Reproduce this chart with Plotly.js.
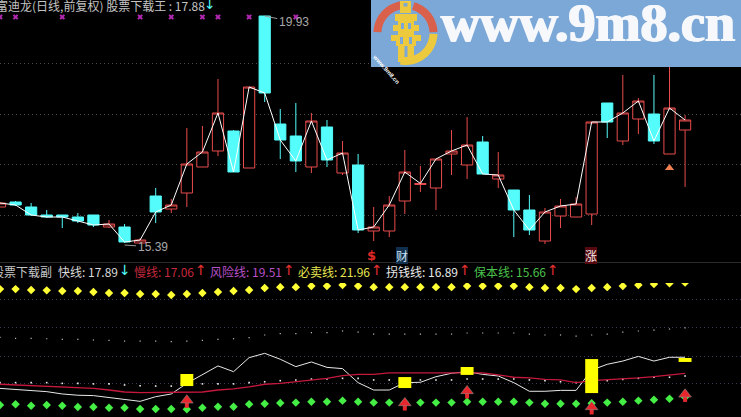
<!DOCTYPE html>
<html><head><meta charset="utf-8">
<script src="https://cdn.plot.ly/plotly-3.0.1.min.js"></script>
<style>html,body{margin:0;padding:0;background:#000;overflow:hidden}#c{width:741px;height:417px}</style>
</head><body><div id="c"></div>
<script>
const idx = Array.from({length:45},(_,i)=>i);
const openP = [16.11,16.21,16.11,15.95,15.95,15.91,15.95,15.71,15.71,15.39,16.33,16.07,16.39,16.91,17.23,17.63,16.89,19.93,17.77,17.53,16.91,17.71,16.79,16.95,15.63,15.63,16.23,16.56,16.49,17.17,16.95,17.41,16.67,16.45,16.05,15.43,15.93,15.91,15.97,18.19,17.43,17.87,17.97,17.17,17.65];
const highP = [16.21,16.23,16.19,16.05,15.95,15.99,15.95,15.85,15.77,15.49,16.49,16.27,17.69,17.73,18.67,17.65,18.51,19.93,18.07,18.19,17.99,17.85,17.43,17.17,16.11,16.33,17.25,16.93,17.07,17.65,17.91,17.53,17.21,16.45,16.35,16.09,16.27,16.31,17.81,18.19,18.75,18.29,18.75,19.25,17.95];
const lowP = [16.11,16.13,15.93,15.89,15.69,15.79,15.71,15.69,15.39,15.39,15.79,15.99,16.11,16.91,17.13,16.81,16.89,18.21,17.07,16.81,16.79,16.91,16.75,15.59,15.43,15.51,15.97,16.41,16.05,16.75,16.67,16.77,16.49,15.51,15.55,15.37,15.69,15.91,15.75,17.49,17.35,17.57,17.37,17.17,16.51];
const closeP = [16.19,16.15,15.95,15.91,15.91,15.83,15.75,15.77,15.41,15.45,16.01,16.15,16.97,17.21,17.99,16.81,18.51,18.39,17.45,17.03,17.83,17.05,17.19,15.65,15.71,16.15,16.81,16.58,17.07,17.23,17.35,16.77,16.75,16.05,15.65,16.01,16.13,16.17,17.81,17.81,17.99,18.23,17.43,18.09,17.85];
const crossIdx = [0,1,4,9,11,13,14,16,19];
const crossPrice = [19.91,19.91,19.91,19.91,19.91,19.91,19.91,19.91,19.91];
const triIdx = [43];
const triPrice = [16.89];

const sellLine = [21.72,21.72,21.67,21.65,21.61,21.61,21.56,21.50,21.50,21.45,21.45,21.39,21.45,21.50,21.56,21.61,21.67,21.78,21.83,21.83,21.89,21.89,21.95,21.89,21.83,21.83,21.83,21.83,21.83,21.83,21.89,21.89,21.89,21.89,21.83,21.78,21.78,21.72,21.78,21.83,21.89,21.95,22.00,22.04,22.08];
const saveLine = [15.28,15.32,15.24,15.28,15.24,15.17,15.17,15.13,15.13,15.06,15.06,15.06,15.04,15.13,15.18,15.18,15.32,15.35,15.39,15.41,15.46,15.46,15.52,15.46,15.41,15.41,15.41,15.41,15.41,15.41,15.46,15.46,15.46,15.46,15.41,15.35,15.35,15.35,15.37,15.41,15.46,15.52,15.57,15.63,15.71];
const fastLine = [16.20,16.15,16.06,16.02,15.89,15.82,15.80,15.70,15.56,15.48,15.74,15.89,16.48,16.95,17.45,17.13,17.91,18.15,17.82,17.41,17.67,17.37,17.30,16.52,16.11,16.11,16.52,16.54,16.85,17.04,17.13,16.98,16.89,16.52,16.04,16.04,16.09,16.09,17.22,17.54,17.72,17.98,17.72,17.93,17.93];
const slowLine = [16.43,16.39,16.37,16.33,16.26,16.24,16.20,16.11,16.00,15.96,15.96,15.96,15.96,16.00,16.11,16.17,16.28,16.43,16.48,16.56,16.67,16.76,16.91,16.98,16.98,17.06,17.06,17.06,17.06,17.06,17.09,17.06,16.95,16.82,16.78,16.70,16.67,16.52,16.63,16.67,16.70,16.78,16.85,16.93,17.04];
const riskLine = [19.04,18.98,18.98,18.96,18.93,18.93,18.89,18.87,18.83,18.83,18.83,18.80,18.83,18.87,18.93,18.96,19.02,19.17,19.24,19.24,19.30,19.30,19.39,19.33,19.22,19.22,19.22,19.22,19.22,19.22,19.28,19.28,19.28,19.28,19.22,19.17,19.17,19.11,19.17,19.22,19.33,19.39,19.44,19.50,19.57];
const profitLine = [16.52,16.52,16.52,16.52,16.48,16.48,16.45,16.45,16.39,16.35,16.33,16.33,16.39,16.45,16.45,16.45,16.52,16.57,16.63,16.67,16.72,16.72,16.76,16.76,16.67,16.67,16.67,16.67,16.67,16.67,16.72,16.72,16.72,16.72,16.67,16.63,16.57,16.52,16.57,16.63,16.70,16.76,16.82,16.82,16.89];
const barIdx = [12,26,30,38,44];
const barTop = [17.00,16.83,17.39,17.83,17.89];
const barBase = [16.33,16.22,16.95,15.94,17.67];
const arrowHead = [15.54,15.39,16.06,15.17,15.87];
const arrowStem = [0.42,0.42,0.42,0.42,0.42];

const mainGrid = [18.99,17.97,16.97,15.95];
const subGrid = [21.17,19.56,18.00,16.50];
const topTitle = "富迪龙(日线,前复权) 股票下载王 : 17.88";
const subName = "股票下载副";
const subLabels = ["快线: 17.89","慢线: 17.06","风险线: 19.51","必卖线: 21.96","拐钱线: 16.89","保本线: 15.66"];
const subColors = ["#d8d8d8","#c4283c","#b850c8","#e6e650","#e8e8e8","#4cc04c"];
const subLabelX = [58,134,210,298,386,474];
const subArrowX = [119,195,283,371,459,547];
const subArrows = ["↓","↑","↑","↑","↑","↑"];
const subArrowColors = ["#54fcfc","#e03030","#e03030","#e03030","#e03030","#e03030"];

const W=741,H=417,pxPerBar=15.57;
const fx=x=>x/W, fy=y=>1-y/H;
const FONT='"Noto Sans CJK SC","Liberation Sans",sans-serif';

function txt(x,y,text,color,size,extra){
  return Object.assign({xref:'paper',yref:'paper',x:fx(x),y:fy(y),text,showarrow:false,xanchor:'left',yanchor:'middle',
    font:{family:FONT,size:size||12,color},borderpad:0,borderwidth:0},extra||{});
}
function rect(x0,y0,x1,y1,c){return {type:'rect',xref:'paper',yref:'paper',x0:fx(x0),x1:fx(x1),y0:fy(y0),y1:fy(y1),fillcolor:c,line:{width:0},layer:'above'};}
function arc(cx,cy,r0,r1,a0,a1,c){
  let p=[];const n=30;
  for(let i=0;i<=n;i++){const a=(a0+(a1-a0)*i/n)*Math.PI/180;p.push([cx+r1*Math.cos(a),cy-r1*Math.sin(a)]);}
  for(let i=n;i>=0;i--){const a=(a0+(a1-a0)*i/n)*Math.PI/180;p.push([cx+r0*Math.cos(a),cy-r0*Math.sin(a)]);}
  const path='M'+p.map(q=>fx(q[0]).toFixed(5)+' '+fy(q[1]).toFixed(5)).join('L')+'Z';
  return {type:'path',xref:'paper',yref:'paper',path,fillcolor:c,line:{width:0},layer:'above'};
}

const GOLD='#edc93d', SKY='#7ca8d8', LOGORED='#d9604a';
const shapes=[
  {type:'line',xref:'paper',yref:'paper',x0:0,x1:1,y0:fy(262.5),y1:fy(262.5),line:{color:'#2c2c2c',width:1}},
  rect(371,0,741,67,SKY),
  arc(405.5,33,24,32,98,178,LOGORED),
  arc(405.5,33,24,32,2,74,LOGORED),
  arc(405.5,33,24,32,-2,-100,GOLD),
  rect(400,1,411,13,GOLD),
  rect(403.5,3,407.5,6.5,SKY),
  rect(395,14,417,21,GOLD),
  rect(398,21,414,25,GOLD),
  rect(393,25,419,31,GOLD),
  rect(398,31,414,35,GOLD),
  rect(391,35,421,41,GOLD),
  rect(396,41,416,46,GOLD),
  rect(398,46,404.5,62,GOLD),
  rect(407.5,46,414,62,GOLD),
  rect(401,23,404,29,SKY),
  rect(408,23,411,29,SKY),
  rect(400,37,403,44,SKY),
  rect(409,37,412,44,SKY)
];

const annotations=[
  txt(-4,5,topTitle,'#c4c4c4',12),
  txt(204,4,'↓','#54fcfc',14,{font:{family:'DejaVu Sans',size:14,color:'#54fcfc'}}),
  txt(-8,271,subName,'#c4c4c4',12),
  {x:17,y:19.93,xref:'x',yref:'y',text:'19.93',showarrow:true,arrowhead:0,arrowwidth:1,arrowcolor:'#999',ax:29,ay:6,
    font:{family:'Liberation Sans',size:12,color:'#a8a8a8'}},
  {x:8,y:15.35,xref:'x',yref:'y',text:'15.39',showarrow:true,arrowhead:0,arrowwidth:1,arrowcolor:'#999',ax:28,ay:2,
    font:{family:'Liberation Sans',size:12,color:'#a8a8a8'}},
  txt(367,255.5,'<b>$</b>','#e02828',14,{font:{family:'DejaVu Sans',size:13,color:'#e02828'}}),
  txt(396,255,'财','#cfe0f0',12,{bgcolor:'#12304e'}),
  txt(585,255,'涨','#f0e8e8',12,{bgcolor:'#560a10'}),
  txt(441,22.5,'<b>www.9m8.cn</b>','#f6f8fc',54,{font:{family:'Liberation Serif',size:54,color:'#f6f8fc',shadow:'1px 0 0 #f6f8fc, -1px 0 0 #f6f8fc'}}),
  {xref:'paper',yref:'paper',x:fx(386),y:fy(50),text:'<b>www.9m8.cn</b>',showarrow:false,textangle:48,
    font:{family:'Liberation Sans',size:6,color:'#ffffff'}}
];
subLabels.forEach((s,i)=>{
  annotations.push(txt(subLabelX[i],271,s,subColors[i],12));
  annotations.push(txt(subArrowX[i],270,subArrows[i],subArrowColors[i],14,{font:{family:'DejaVu Sans',size:14,color:subArrowColors[i]}}));
});

const data=[
  {type:'candlestick',x:idx,open:openP,high:highP,low:lowP,close:closeP,xaxis:'x',yaxis:'y',whiskerwidth:0,
    increasing:{line:{color:'#e84c4c',width:1},fillcolor:'#000000'},
    decreasing:{line:{color:'#54fcfc',width:1},fillcolor:'#54fcfc'},hoverinfo:'skip'},
  {type:'scatter',mode:'lines',x:idx,y:closeP,xaxis:'x',yaxis:'y',line:{color:'#ffffff',width:1},hoverinfo:'skip'},
  {type:'scatter',mode:'markers',x:crossIdx,y:crossPrice,xaxis:'x',yaxis:'y',marker:{symbol:'x',size:5,color:'#b028b0',line:{width:0}},hoverinfo:'skip'},
  {type:'scatter',mode:'markers',x:triIdx,y:triPrice,xaxis:'x',yaxis:'y',marker:{symbol:'triangle-up',size:8,color:'#f08050'},hoverinfo:'skip'},

  {type:'scatter',mode:'markers',x:idx,y:riskLine,xaxis:'x',yaxis:'y2',marker:{symbol:'square',size:1.2,color:'#bbbbbb'},hoverinfo:'skip'},
  {type:'scatter',mode:'markers',x:idx,y:profitLine,xaxis:'x',yaxis:'y2',marker:{symbol:'square',size:1.6,color:'#eeeeee'},hoverinfo:'skip'},
  {type:'scatter',mode:'markers',x:idx,y:sellLine,xaxis:'x',yaxis:'y2',marker:{symbol:'diamond',size:6.5,color:'#ffff33'},hoverinfo:'skip'},
  {type:'scatter',mode:'markers',x:idx,y:saveLine,xaxis:'x',yaxis:'y2',marker:{symbol:'diamond',size:6.5,color:'#44ee44'},hoverinfo:'skip'},
  {type:'scatter',mode:'lines',x:idx,y:fastLine,xaxis:'x',yaxis:'y2',line:{color:'#e8e8e8',width:1},hoverinfo:'skip'},
  {type:'scatter',mode:'lines',x:idx,y:slowLine,xaxis:'x',yaxis:'y2',line:{color:'#c4183c',width:1.3},hoverinfo:'skip'},
  {type:'bar',x:barIdx,y:barTop.map((t,i)=>t-barBase[i]),base:barBase,xaxis:'x',yaxis:'y3',width:0.83,marker:{color:'#ffff00',line:{width:0}},hoverinfo:'skip'},
  {type:'scatter',mode:'markers',x:barIdx,y:arrowHead,xaxis:'x',yaxis:'y3',
    marker:{symbol:'triangle-up',size:11,color:'#e8262c',line:{color:'#8a8a8a',width:0.6}},
    error_y:{type:'data',symmetric:false,array:arrowHead.map(()=>0),arrayminus:arrowStem,thickness:4,width:0,color:'#e8262c'},hoverinfo:'skip'}
];

const layout={
  width:W,height:H,margin:{l:0,r:0,t:0,b:0},paper_bgcolor:'#000',plot_bgcolor:'#000',showlegend:false,
  boxgap:0.2,boxgroupgap:0.1,
  xaxis:{range:[0,W/pxPerBar],type:'linear',visible:false,fixedrange:true,rangeslider:{visible:false},anchor:'y2',showgrid:false,zeroline:false},
  yaxis:{domain:[fy(262),1],range:[15.01,20.25],tickvals:mainGrid,showticklabels:false,ticks:'',showgrid:true,gridcolor:'#4a4a4a',griddash:'1px,3px',gridwidth:1,zeroline:false,showline:false,fixedrange:true},
  yaxis2:{domain:[0,fy(283)],range:[14.61,22.06],tickvals:subGrid,showticklabels:false,ticks:'',showgrid:true,gridcolor:'#3a3a55',griddash:'1px,3px',gridwidth:1,zeroline:false,showline:false,fixedrange:true},
  yaxis3:{overlaying:'y2',domain:[0,fy(283)],range:[14.61,22.06],showticklabels:false,ticks:'',showgrid:false,zeroline:false,showline:false,fixedrange:true},
  shapes,annotations,hovermode:false
};
Plotly.newPlot('c',data,layout,{staticPlot:true,displayModeBar:false});
</script></body></html>
